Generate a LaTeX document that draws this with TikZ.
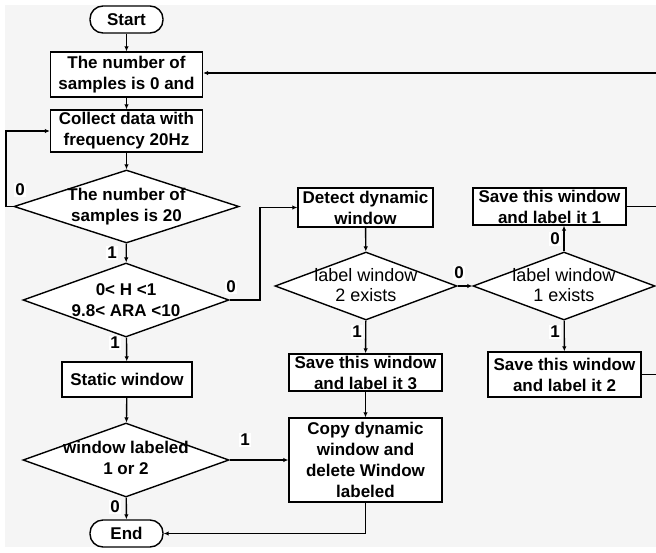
\documentclass[tikz,border=0pt]{standalone}
\usepackage{fontspec}
\setmainfont{Liberation Sans}
\usetikzlibrary{shapes.geometric,arrows.meta}
\definecolor{bgc}{HTML}{F5F5F5}
\begin{document}
\begin{tikzpicture}[x=1pt,y=-1pt,
  every node/.style={font=\fontsize{17}{21}\selectfont\bfseries},
  box/.style={draw,fill=white,line width=1.4pt,inner sep=0pt,align=center},
  term/.style={box,rounded corners=13pt},
  dia/.style={draw,fill=white,diamond,line width=1.4pt,inner sep=0pt},
  txt/.style={align=center,inner sep=0pt},
  lab/.style={fill=white,inner sep=1pt},
  conn/.style={line width=1.4pt,-{Latex[length=5pt,width=4.5pt]}},
  plain/.style={line width=1.4pt}
]
\useasboundingbox (0,0) rectangle (656,552);
\fill[bgc] (5,5) rectangle (656,547);

% left column
\node[term,minimum width=73pt,minimum height=27pt] (start) at (126.5,19.5) {Start};
\node[box,minimum width=152pt,minimum height=45pt] (b1) at (126.5,74.5) {The number of\\samples is 0 and};
\node[box,minimum width=152pt,minimum height=42pt] (b2) at (126.5,131) {Collect data with\\frequency 20Hz};
\node[dia,minimum width=225pt,minimum height=73pt] (d1) at (126.5,206.5) {};
\node[txt] (d1t) at (d1) {The number of\\samples is 20};
\node[dia,minimum width=206pt,minimum height=74pt] (d2) at (126,300) {};
\node[txt] (d2t) at (d2) {0< H <1\\9.8< ARA <10};
\node[box,minimum width=130pt,minimum height=35pt] (st) at (127,379.5) {Static window};
\node[dia,minimum width=206pt,minimum height=74pt] (d3) at (126,460) {};
\node[txt] (d3t) at (126,458) {window labeled\\1 or 2};
\node[term,minimum width=73pt,minimum height=27pt] (end) at (126.5,533.5) {End};

% middle column
\node[box,minimum width=135pt,minimum height=39pt] (det) at (365.5,207.5) {Detect dynamic\\window};
\node[dia,minimum width=182pt,minimum height=68pt] (d4) at (366,286) {};
\node[txt,font=\fontsize{18}{20}\selectfont] (d4t) at (366,285) {label window\\2 exists};
\node[box,minimum width=153pt,minimum height=37pt] (s3) at (365.5,372.5) {Save this window\\and label it 3};
\node[box,minimum width=153pt,minimum height=84pt] (cp) at (365.5,460) {Copy dynamic\\window and\\delete Window\\labeled};

% right column
\node[dia,minimum width=182pt,minimum height=68pt] (d5) at (564,286) {};
\node[txt,font=\fontsize{18}{20}\selectfont] (d5t) at (564,285) {label window\\1 exists};
\node[box,minimum width=153pt,minimum height=37pt] (s1) at (549.5,206.5) {Save this window\\and label it 1};
\node[box,minimum width=153pt,minimum height=45pt] (s2) at (564.5,374.5) {Save this window\\and label it 2};

\coordinate (r0) at (656,73);
\coordinate (r1) at (656,206.5);
\coordinate (r2) at (656,374.5);

% connectors
\draw[conn] (start) -- (b1);
\draw[conn] (b1) -- (b2);
\draw[conn] (b2) -- (d1);
\draw[conn] (d1) -- (d2);
\draw[conn] (d1.west) -- (6,206.5) |- (b2.west);
\draw[conn] (d2.east) -- (260,300) |- (det.west);
\draw[conn] (d2) -- (st);
\draw[conn] (st) -- (d3);
\draw[conn] (d3.east) -- (cp.west);
\draw[conn] (d3) -- (end);
\draw[conn] (cp.south) |- (end.east);
\draw[conn] (det) -- (d4);
\draw[conn] (d4.east) -- (d5.west);
\draw[conn] (d4) -- (s3);
\draw[conn] (s3) -- (cp);
\draw[conn] (d5) -- (s2);
\draw[conn] (d5.north) -- (d5.north |- s1.south);
\draw[plain] (s1.east) -- (r1);
\draw[plain] (s2.east) -- (r2);
\draw[conn] (r0) -- (b1.east |- r0);

% labels
\node[lab] (l1) at (20,190) {0};
\node[lab] (l2) at (112,253) {1};
\node[lab] (l3) at (231,287) {0};
\node[lab] (l4) at (115,343) {1};
\node[lab] (l5) at (245,440) {1};
\node[lab] (l6) at (115,507) {0};
\node[lab] (l7) at (459,273) {0};
\node[lab] (l8) at (357,332) {1};
\node[lab] (l9) at (555,332) {1};
\node[lab] (l10) at (555,239) {0};
\end{tikzpicture}
\end{document}
